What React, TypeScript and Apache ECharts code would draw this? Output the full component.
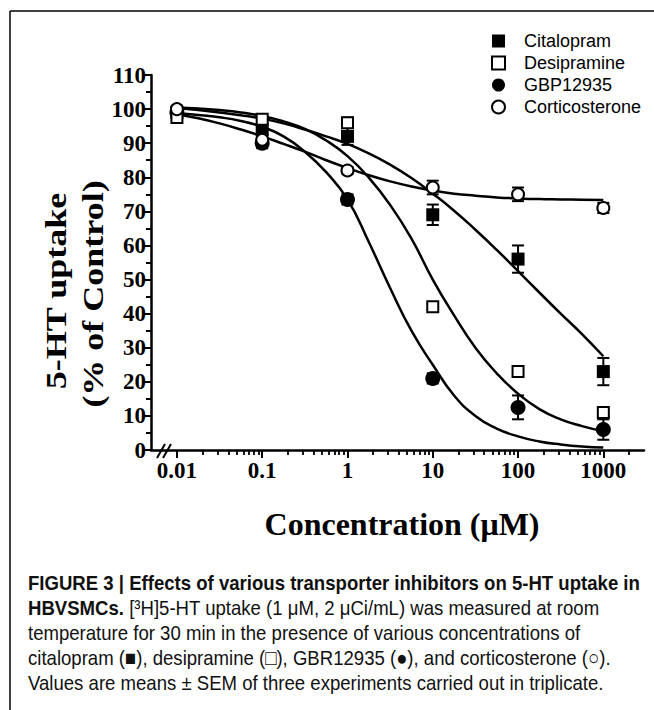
import React, { useEffect, useRef } from "react";
import * as echarts from "echarts";

// ---- data ----
const concentrations = [0.01, 0.1, 1, 10, 100, 1000];
const citalopram = [99, 94, 92, 69, 56, 23];
const citalopramSem = [1.5, 1.5, 2.5, 3, 4, 4];
const desipramine = [97.5, 97, 96, 42, 23, 11];
const desipramineSem = [1.5, 1, 1.5, 1, 1.5, 1];
const gbr12935 = [99, 90, 73.5, 21, 12.5, 6];
const gbr12935Sem = [1, 1.5, 1.5, 1.5, 3.5, 3];
const corticosterone = [100, 91, 82, 77, 75, 71];
const corticosteroneSem = [1, 1.5, 1, 2, 2, 1.5];

// fitted curves, read at log10(concentration) positions
const curveLogX = [-2, -1.75, -1.5, -1.25, -1, -0.75, -0.5, -0.25, 0, 0.25, 0.5, 0.75, 1, 1.25, 1.5, 1.75, 2, 2.25, 2.5, 2.75, 3];
const curveRight = [100.3, 99.7, 99, 98.2, 97.2, 95.8, 94, 92, 89.8, 87, 83.7, 79.8, 75.2, 70.2, 64.6, 58.7, 52.5, 46.2, 40, 34, 27.5];
const curveMiddle = [100.5, 100.2, 99.7, 99, 98, 96.4, 94.2, 90.8, 86.2, 79.9, 71.9, 62, 50, 39.5, 30, 22.5, 16.5, 12, 9, 7, 5.5];
const curveLeft = [98.8, 98.3, 97.6, 96.5, 94.8, 92, 87.5, 81.5, 73.5, 61, 47.5, 35, 25, 16, 10, 6.3, 4, 2.5, 1.6, 1, 0.7];
const curveFlat = [98.5, 97.3, 95.8, 94, 92, 89.8, 87.5, 85, 82.7, 80.6, 78.8, 77.3, 76.1, 75.2, 74.6, 74.1, 73.8, 73.6, 73.5, 73.4, 73.3];

const xTickLogs = [-2, -1, 0, 1, 2, 3];
const xTickLabels = ["0.01", "0.1", "1", "10", "100", "1000"];
const legendNames = ["Citalopram", "Desipramine", "GBP12935", "Corticosterone"];

const captionLines = [
  "{b|FIGURE 3 | Effects of various transporter inhibitors on 5-HT uptake in}",
  "{b|HBVSMCs.} [³H]5-HT uptake (1 μM, 2 μCi/mL) was measured at room",
  "temperature for 30 min in the presence of various concentrations of",
  "citalopram (■), desipramine (□), GBR12935 (●), and corticosterone (○).",
  "Values are means ± SEM of three experiments carried out in triplicate.",
];

const SERIF = "'Liberation Serif', 'Times New Roman', serif";
const SANS = "'Liberation Sans', Arial, sans-serif";

const minorLogs: number[] = [];
for (let n = -2; n <= 3; n++) {
  for (let k = 2; k <= 9; k++) {
    const v = Math.log10(k) + n;
    if (v <= 3.48) minorLogs.push(v);
  }
}

const X_MIN = -2.304;
const X_MAX = 3.477;

function points(values: number[]) {
  return concentrations.map((c, i) => [Math.log10(c), values[i]]);
}
function curve(values: number[]) {
  return curveLogX.map((x, i) => [x, values[i]]);
}
function errData(values: number[], sem: number[]) {
  return concentrations.map((c, i) => [Math.log10(c), values[i] - sem[i], values[i] + sem[i]]);
}

const errorRender = (params: any, api: any) => {
  const x = api.value(0);
  const lo = api.coord([x, api.value(1)]);
  const hi = api.coord([x, api.value(2)]);
  const cap = 6;
  const st = { stroke: "#000", lineWidth: 2 };
  return {
    type: "group",
    children: [
      { type: "line", shape: { x1: lo[0], y1: lo[1], x2: hi[0], y2: hi[1] }, style: st },
      { type: "line", shape: { x1: lo[0] - cap, y1: lo[1], x2: lo[0] + cap, y2: lo[1] }, style: st },
      { type: "line", shape: { x1: hi[0] - cap, y1: hi[1], x2: hi[0] + cap, y2: hi[1] }, style: st },
    ],
  };
};

export default function App() {
  const ref = useRef<HTMLDivElement>(null);
  useEffect(() => {
    if (!ref.current) return;
    const chart = echarts.init(ref.current, undefined, { renderer: "svg" });

    const lineSeries = (data: number[]) => ({
      type: "line",
      data: curve(data),
      smooth: true,
      symbol: "none",
      lineStyle: { color: "#000", width: 2.5 },
      z: 2,
      silent: true,
    });
    const errSeries = (v: number[], s: number[]) => ({
      type: "custom",
      data: errData(v, s),
      renderItem: errorRender,
      encode: { x: 0, y: [1, 2] },
      z: 3,
      silent: true,
    });

    const option: any = {
      animation: false,
      grid: { left: 151, top: 75, width: 493, height: 375, containLabel: false },
      legend: {
        orient: "vertical",
        left: 486,
        top: 27,
        itemWidth: 13,
        itemHeight: 13,
        itemGap: 4,
        selectedMode: false,
        data: legendNames,
        itemStyle: { opacity: 1 },
        textStyle: { fontFamily: SANS, fontSize: 18, color: "#000", padding: [0, 0, 0, 14], lineHeight: 18 },
      },
      xAxis: [
        {
          type: "value",
          min: X_MIN,
          max: X_MAX,
          position: "bottom",
          splitLine: { show: false },
          axisLine: { onZero: false, lineStyle: { color: "#000", width: 2.5 } },
          axisTick: { customValues: xTickLogs, length: 8, lineStyle: { color: "#000", width: 2 } },
          axisLabel: {
            customValues: xTickLogs,
            formatter: (v: number) => {
              const i = xTickLogs.findIndex((t) => Math.abs(t - v) < 1e-6);
              return i >= 0 ? xTickLabels[i] : "";
            },
            fontFamily: SERIF,
            fontWeight: "bold",
            fontSize: 23,
            color: "#000",
            margin: 9,
          },
        },
        {
          type: "value",
          min: X_MIN,
          max: X_MAX,
          position: "bottom",
          splitLine: { show: false },
          axisLine: { show: false, onZero: false },
          axisTick: { customValues: minorLogs, length: 5, lineStyle: { color: "#000", width: 1.8 } },
          axisLabel: { show: false },
        },
      ],
      yAxis: {
        type: "value",
        min: 0,
        max: 110,
        interval: 10,
        splitLine: { show: false },
        axisLine: { show: true, onZero: false, lineStyle: { color: "#000", width: 2.5 } },
        axisTick: { show: true, length: 8, lineStyle: { color: "#000", width: 2 } },
        minorTick: { show: true, splitNumber: 2, length: 5, lineStyle: { color: "#000", width: 2 } },
        axisLabel: { fontFamily: SERIF, fontWeight: "bold", fontSize: 23, color: "#000", margin: 5 },
      },
      series: [
        lineSeries(curveRight),
        lineSeries(curveMiddle),
        lineSeries(curveLeft),
        lineSeries(curveFlat),
        errSeries(citalopram, citalopramSem),
        errSeries(desipramine, desipramineSem),
        errSeries(gbr12935, gbr12935Sem),
        errSeries(corticosterone, corticosteroneSem),
        {
          name: "Citalopram",
          type: "scatter",
          data: points(citalopram),
          symbol: "rect",
          symbolSize: 13,
          itemStyle: { color: "#000", opacity: 1 },
          z: 4,
        },
        {
          name: "Desipramine",
          type: "scatter",
          data: points(desipramine),
          symbol: "rect",
          symbolSize: 11,
          itemStyle: { color: "#fff", borderColor: "#000", borderWidth: 2, opacity: 1 },
          z: 5,
        },
        {
          name: "GBP12935",
          type: "scatter",
          data: points(gbr12935),
          symbol: "circle",
          symbolSize: 15,
          itemStyle: { color: "#000", opacity: 1 },
          z: 4,
        },
        {
          name: "Corticosterone",
          type: "scatter",
          data: points(corticosterone),
          symbol: "circle",
          symbolSize: 12,
          itemStyle: { color: "#fff", borderColor: "#000", borderWidth: 2, opacity: 1 },
          z: 5,
        },
      ],
      graphic: [
        { type: "line", shape: { x1: 10, y1: 11, x2: 10, y2: 710 }, style: { stroke: "#000", lineWidth: 1.5 } },
        { type: "line", shape: { x1: 10, y1: 11, x2: 654, y2: 11 }, style: { stroke: "#000", lineWidth: 1.5 } },
        { type: "line", shape: { x1: 157, y1: 458, x2: 165, y2: 444 }, style: { stroke: "#000", lineWidth: 2 } },
        { type: "line", shape: { x1: 163, y1: 458, x2: 171, y2: 444 }, style: { stroke: "#000", lineWidth: 2 } },
        {
          type: "text",
          x: 56,
          y: 291,
          rotation: Math.PI / 2,
          scaleX: 1.2,
          style: {
            text: "5-HT uptake",
            fontFamily: SERIF,
            fontWeight: "bold",
            fontSize: 30,
            fill: "#000",
            textAlign: "center",
            textVerticalAlign: "middle",
          },
        },
        {
          type: "text",
          x: 93,
          y: 294,
          rotation: Math.PI / 2,
          scaleX: 1.2,
          style: {
            text: "(% of Control)",
            fontFamily: SERIF,
            fontWeight: "bold",
            fontSize: 30,
            fill: "#000",
            textAlign: "center",
            textVerticalAlign: "middle",
          },
        },
        {
          type: "text",
          x: 402,
          y: 524,
          style: {
            text: "Concentration (μM)",
            fontFamily: SERIF,
            fontWeight: "bold",
            fontSize: 32,
            fill: "#000",
            textAlign: "center",
            textVerticalAlign: "middle",
          },
        },
        ...captionLines.map((t, i) => ({
          type: "text",
          x: 28,
          y: 583 + i * 25,
          scaleX: 0.885,
          style: {
            text: t,
            fontFamily: SANS,
            fontSize: 21,
            fill: "#111",
            textAlign: "left",
            textVerticalAlign: "middle",
            rich: { b: { fontFamily: SANS, fontSize: 21, fontWeight: "bold", fill: "#111" } },
          },
        })),
      ],
    };
    chart.setOption(option);
    return () => chart.dispose();
  }, []);
  return (
    <div style={{ position: "absolute", left: 0, top: 0, width: 654, height: 710, background: "#fff" }}>
      <div ref={ref} style={{ width: 654, height: 710 }} />
    </div>
  );
}
